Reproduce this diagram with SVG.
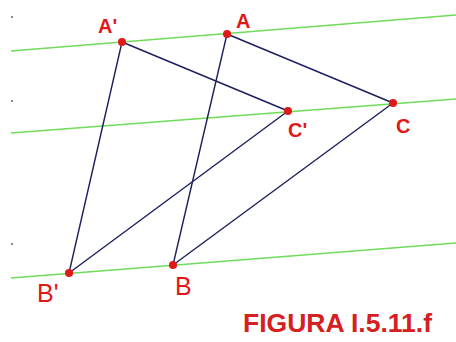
<svg xmlns="http://www.w3.org/2000/svg" width="456" height="342" viewBox="0 0 456 342">
<style>
.bg{fill:#ffffff}
.par{stroke:#6fdc5a;stroke-width:1.6;fill:none}
.edge{stroke:#1c1f5e;stroke-width:1.4;fill:none}
.pt{fill:#e01818}
.lbl{fill:#e01818;font-family:"Liberation Sans",Arial,sans-serif;font-weight:bold;font-size:20px}
.lblb{fill:#e01818;font-family:"Liberation Sans",Arial,sans-serif;font-size:25px}
.tick{fill:#8a8a8a}
.title{fill:#d42020;font-family:"Liberation Sans",Arial,sans-serif;font-weight:bold;font-size:26px}
</style>
<rect class="bg" x="0" y="0" width="456" height="342"/>
<g id="parallels">
<line class="par" x1="11" y1="51" x2="456" y2="15"/>
<line class="par" x1="11" y1="133" x2="456" y2="99"/>
<line class="par" x1="11" y1="278" x2="456" y2="243"/>
<rect class="tick" x="11" y="16" width="2" height="2"/>
<rect class="tick" x="11" y="100" width="2" height="2"/>
<rect class="tick" x="11" y="243" width="2" height="2"/>
</g>
<g id="connectors">
<line class="edge" x1="122" y1="42" x2="69" y2="273"/>
<line class="edge" x1="122" y1="42" x2="288" y2="111"/>
<line class="edge" x1="69" y1="273" x2="288" y2="111"/>
<line class="edge" x1="227" y1="34" x2="173" y2="265"/>
<line class="edge" x1="227" y1="34" x2="393" y2="103"/>
<line class="edge" x1="173" y1="265" x2="393" y2="103"/>
</g>
<g id="A1"><circle class="pt" cx="122" cy="42" r="4"/><text class="lbl" x="98" y="33">A'</text></g>
<g id="A"><circle class="pt" cx="227" cy="34" r="4"/><text class="lbl" x="236" y="28">A</text></g>
<g id="C1"><circle class="pt" cx="288" cy="111" r="4"/><text class="lbl" x="288" y="137">C'</text></g>
<g id="C"><circle class="pt" cx="393" cy="103" r="4"/><text class="lbl" x="396" y="133">C</text></g>
<g id="B1"><circle class="pt" cx="69" cy="273" r="4"/><text class="lblb" x="37" y="302">B'</text></g>
<g id="B"><circle class="pt" cx="173" cy="265" r="4"/><text class="lblb" x="175" y="295">B</text></g>
<text class="title" x="243" y="332" textLength="189" lengthAdjust="spacingAndGlyphs">FIGURA I.5.11.f</text>
</svg>
